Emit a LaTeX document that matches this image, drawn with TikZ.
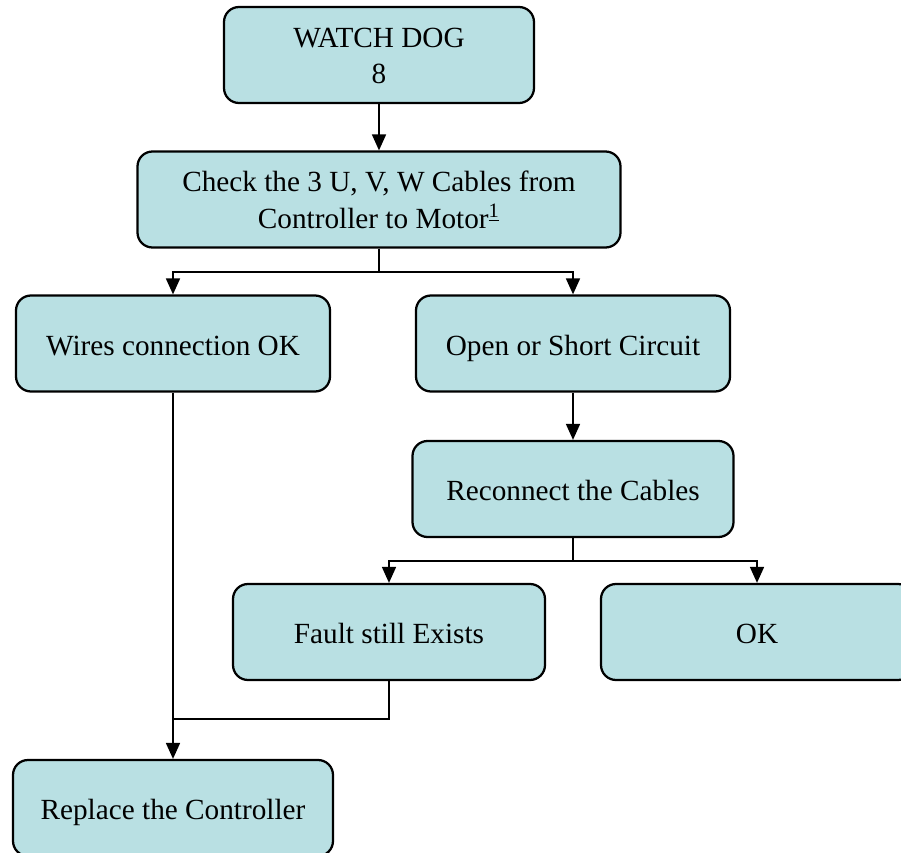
\documentclass[tikz,border=0pt]{standalone}
\usepackage{fontspec}
\setmainfont{Liberation Serif}
\usetikzlibrary{arrows.meta}
\definecolor{boxfill}{RGB}{185,224,227}
\tikzset{
  box/.style={draw,line width=0.9pt,fill=boxfill,rounded corners=6pt,align=center,
    minimum height=38.4pt,inner sep=2pt,text height=9.2pt,text depth=0pt,
    font=\fontsize{11.7}{14.6}\selectfont},
  twobox/.style={box,text height=23pt},
  arr/.style={line width=0.7pt,-{Triangle[width=5.6pt,length=6.4pt]}},
  ln/.style={line width=0.7pt}
}
\begin{document}
\begin{tikzpicture}[x=0.4pt,y=-0.4pt]
\clip(0,0) rectangle (901,853);
%
\node[twobox,minimum width=124pt](watch) at (379,55){WATCH DOG\\8};
\node[twobox,minimum width=193.2pt](check) at (379,199.5){Check the 3 U, V, W Cables from\\Controller to Motor\textsuperscript{\underline{1}}};
\node[box,minimum width=125.6pt](wires) at (173,343.5){Wires connection OK};
\node[box,minimum width=125.6pt](open) at (573,343.5){Open or Short Circuit};
\node[box,minimum width=128.4pt](recon) at (573,489){Reconnect the Cables};
\node[box,minimum width=124.8pt](fault) at (389,632){Fault still Exists};
\node[box,minimum width=124.8pt](ok) at (757,632){OK};
\node[box,minimum width=128pt](replace) at (173,808){Replace the Controller};
\coordinate(join) at (173,719);
%
\draw[arr](watch)--(check);
\draw[arr](check.south)--++(0,23)-|(wires.north);
\draw[arr](check.south)--++(0,23)-|(open.north);
\draw[arr](open)--(recon);
\draw[arr](recon.south)--++(0,23)-|(fault.north);
\draw[arr](recon.south)--++(0,23)-|(ok.north);
\draw[arr](wires)--(replace);
\draw[ln](fault.south)|-(join);
\end{tikzpicture}
\end{document}
